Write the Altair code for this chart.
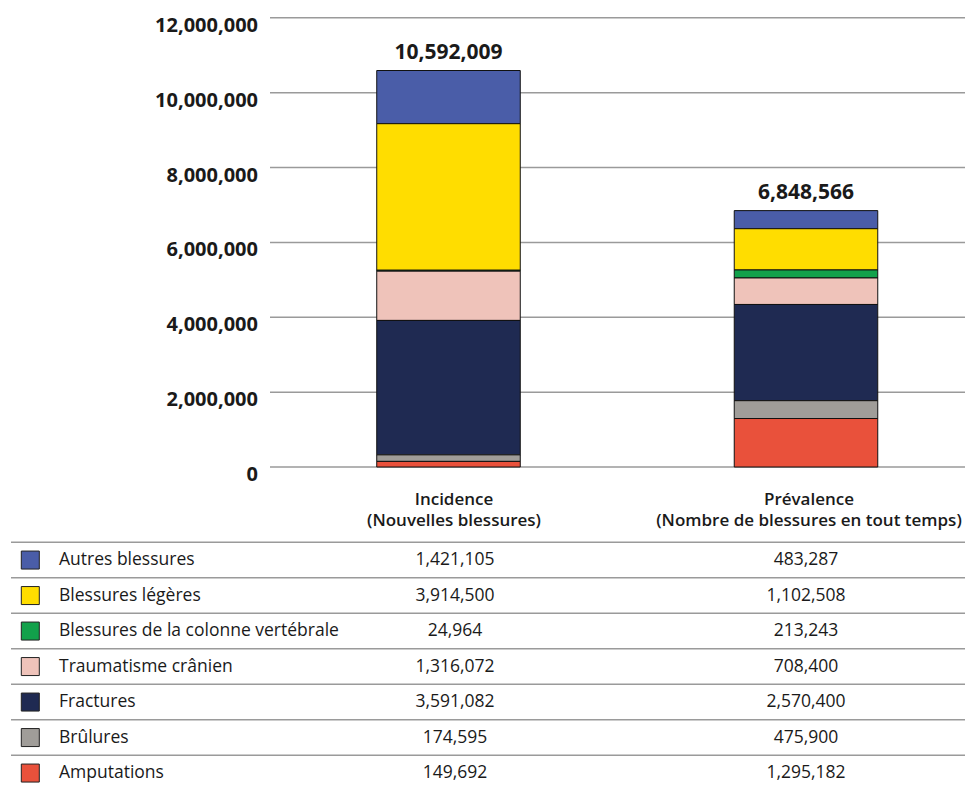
import altair as alt
import pandas as pd

# ---- data ----
injuries = ["Autres blessures", "Blessures légères", "Blessures de la colonne vertébrale",
            "Traumatisme crânien", "Fractures", "Brûlures", "Amputations"]
colors = ["#4a5da8", "#ffdd00", "#12a14b", "#efc3ba", "#1f2a52", "#a09d99", "#e9513b"]
categories = ["Incidence", "Prévalence"]
headers = ["Incidence\n(Nouvelles blessures)", "Prévalence\n(Nombre de blessures en tout temps)"]
incidence = [1421105, 3914500, 24964, 1316072, 3591082, 174595, 149692]
prevalence = [483287, 1102508, 213243, 708400, 2570400, 475900, 1295182]
totals = [10592009, 6848566]
y_ticks = [0, 2000000, 4000000, 6000000, 8000000, 10000000, 12000000]

rows = []
for i, name in enumerate(injuries):
    rows.append({"injury": name, "cat": categories[0], "value": incidence[i], "rank": len(injuries) - i})
    rows.append({"injury": name, "cat": categories[1], "value": prevalence[i], "rank": len(injuries) - i})
df = pd.DataFrame(rows)
df_tot = pd.DataFrame({"cat": categories, "total": totals})
df_ticks = pd.DataFrame({"tick": y_ticks})
df_inj = pd.DataFrame({"injury": injuries})
df_head = pd.DataFrame({"cat": categories, "header": headers})

FONT = "Open Sans"
INK = "#1a1a1a"

# ---- scales (plot coordinates; origin at page (8, 8)) ----
ybar = alt.Scale(domain=[0, 12000000], range=[459, 9.8], nice=False, zero=True)
xbar = alt.Scale(type="band", domain=categories, range=[261.75, 976.75],
                 paddingInner=0.5986, paddingOuter=0.2993)
ytab = alt.Scale(type="band", domain=injuries, range=[534.3, 782.8], paddingInner=0, paddingOuter=0)
xtab = alt.Scale(type="point", domain=categories, range=[447, 798], padding=0)
xhead = alt.Scale(type="point", domain=categories, range=[446, 801], padding=0)
cscale = alt.Scale(domain=injuries, range=colors)

grid = alt.Chart(df_ticks).mark_rule(color="#9a9a9a", strokeWidth=1.5).encode(
    y=alt.Y("tick:Q", scale=ybar, axis=None),
    x=alt.value(262), x2=alt.value(965),
)

ticklabels = alt.Chart(df_ticks).mark_text(
    align="right", baseline="middle", font=FONT, fontSize=20, fontWeight="bold", color=INK, dy=8
).encode(
    y=alt.Y("tick:Q", scale=ybar, axis=None),
    x=alt.value(250),
    text=alt.Text("tick:Q", format=",d"),
)

bars = alt.Chart(df).mark_bar(stroke="#111111", strokeWidth=1).encode(
    x=alt.X("cat:N", scale=xbar, axis=None),
    y=alt.Y("value:Q", scale=ybar, axis=None, stack="zero"),
    color=alt.Color("injury:N", scale=cscale, legend=None),
    order=alt.Order("rank:Q", sort="ascending"),
)

tot = alt.Chart(df_tot).mark_text(
    baseline="middle", font=FONT, fontSize=21, fontWeight="bold", color=INK, dy=-18
).encode(
    x=alt.X("cat:N", scale=xbar, axis=None),
    y=alt.Y("total:Q", scale=ybar, axis=None),
    text=alt.Text("total:Q", format=",d"),
)

head = alt.Chart(df_head).mark_text(
    baseline="top", align="center", font=FONT, fontSize=17, fontWeight=600, color=INK,
    lineBreak="\n", lineHeight=21
).encode(
    x=alt.X("cat:N", scale=xhead, axis=None),
    y=alt.value(484),
    text="header:N",
)

tab_lines = alt.Chart(df_inj).mark_rule(color="#9a9a9a", strokeWidth=1.5).encode(
    y=alt.Y("injury:N", scale=ytab, axis=None, bandPosition=0),
    x=alt.value(3), x2=alt.value(965),
)

squares = alt.Chart(df_inj).mark_square(size=324, stroke="#222222", strokeWidth=1, opacity=1).encode(
    y=alt.Y("injury:N", scale=ytab, axis=None, bandPosition=0.5),
    x=alt.value(22.3),
    color=alt.Color("injury:N", scale=cscale, legend=None),
)

names = alt.Chart(df_inj).mark_text(
    align="left", baseline="middle", font=FONT, fontSize=17.5, color=INK
).encode(
    y=alt.Y("injury:N", scale=ytab, axis=None, bandPosition=0.5),
    x=alt.value(51),
    text="injury:N",
)

vals = alt.Chart(df).mark_text(
    align="center", baseline="middle", font=FONT, fontSize=17.5, color=INK
).encode(
    y=alt.Y("injury:N", scale=ytab, axis=None, bandPosition=0.5),
    x=alt.X("cat:N", scale=xtab, axis=None),
    text=alt.Text("value:Q", format=",d"),
)

chart = alt.layer(
    grid, ticklabels, bars, tot, head, tab_lines, squares, names, vals
).resolve_scale(
    x="independent", y="independent", color="independent"
).properties(
    width=957, height=776, padding=0, autosize=alt.AutoSizeParams(type="none")
).configure_view(stroke=None)

chart.save("out.html", embed_options={"renderer": "svg", "actions": False})
